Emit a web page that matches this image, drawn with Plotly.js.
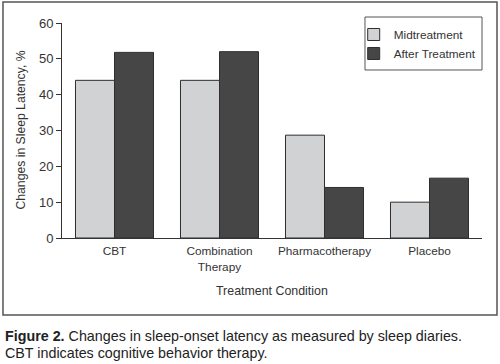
<!DOCTYPE html>
<html><head><meta charset="utf-8">
<script src="https://cdn.plot.ly/plotly-3.0.1.min.js"></script>
<style>html,body{margin:0;padding:0;background:#fff;}#chart{width:500px;height:364px;}</style>
</head><body><div id="chart"></div>
<script>
const categories = ["CBT", "Combination<br>Therapy", "Pharmacotherapy", "Placebo"];
const midtreatment = [44.0, 44.0, 28.7, 10.0];
const afterTreatment = [51.8, 52.0, 14.1, 16.7];
const yTicks = [0, 10, 20, 30, 40, 50, 60];

const FONT = '"Liberation Sans", Arial, sans-serif';
const TXT = '#333333';

const traces = [
  {type:'bar', name:'Midtreatment', x:categories, y:midtreatment,
   marker:{color:'#d1d2d4', line:{color:'#2e2e2e', width:1}}},
  {type:'bar', name:'After Treatment', x:categories, y:afterTreatment,
   marker:{color:'#464646', line:{color:'#2e2e2e', width:1}}}
];

const layout = {
  width:500, height:364,
  margin:{l:62, r:18, t:23, b:126},
  paper_bgcolor:'#ffffff', plot_bgcolor:'#ffffff',
  font:{family:FONT, color:TXT, size:12},
  barmode:'group', bargap:0.257, bargroupgap:0,
  showlegend:true,
  legend:{x:0.6945, y:1.014, xanchor:'left', yanchor:'top', itemwidth:30,
    borderwidth:0, bgcolor:'rgba(0,0,0,0)',
    font:{family:FONT, size:11.8, color:TXT}, tracegroupgap:0},
  xaxis:{type:'category', showline:true, linecolor:'#333', linewidth:1,
    ticks:'', showgrid:false, zeroline:false, ticklabelstandoff:2,
    tickfont:{family:FONT, size:11.8, color:TXT}, fixedrange:true},
  yaxis:{range:[0,60], tickvals:yTicks, showline:true, linecolor:'#333', linewidth:1,
    ticks:'outside', ticklen:5, tickcolor:'#333', showgrid:false, zeroline:false,
    tickfont:{family:FONT, size:13, color:TXT}, fixedrange:true},
  shapes:[
    {type:'rect', xref:'paper', yref:'paper', x0:-0.1405, x1:1.0357, y0:-0.358, y1:1.0977,
     line:{color:'#555555', width:1.5}, fillcolor:'rgba(0,0,0,0)'},
    {type:'rect', xref:'paper', yref:'paper', x0:0.7214, x1:1.0, y0:0.7814, y1:1.0279,
     line:{color:'#555555', width:1}, fillcolor:'rgba(0,0,0,0)'}
  ],
  annotations:[
    {xref:'paper', yref:'paper', x:0.5, y:-0.245, xanchor:'center', yanchor:'middle',
     text:'Treatment Condition', showarrow:false, font:{family:FONT, size:12.4, color:TXT}},
    {xref:'paper', yref:'paper', x:-0.1, y:0.5, xanchor:'center', yanchor:'middle',
     textangle:-90, text:'Changes in Sleep Latency, %', showarrow:false,
     font:{family:FONT, size:12.2, color:TXT}},
    {xref:'paper', yref:'paper', x:-0.141, y:-0.455, xanchor:'left', yanchor:'middle', align:'left',
     text:'<b>Figure 2.</b> Changes in sleep-onset latency as measured by sleep diaries.',
     showarrow:false, font:{family:FONT, size:14.3, color:'#222'}},
    {xref:'paper', yref:'paper', x:-0.141, y:-0.535, xanchor:'left', yanchor:'middle', align:'left',
     text:'CBT indicates cognitive behavior therapy.',
     showarrow:false, font:{family:FONT, size:14.3, color:'#222'}}
  ]
};

Plotly.newPlot('chart', traces, layout, {displayModeBar:false, staticPlot:true});
</script></body></html>
